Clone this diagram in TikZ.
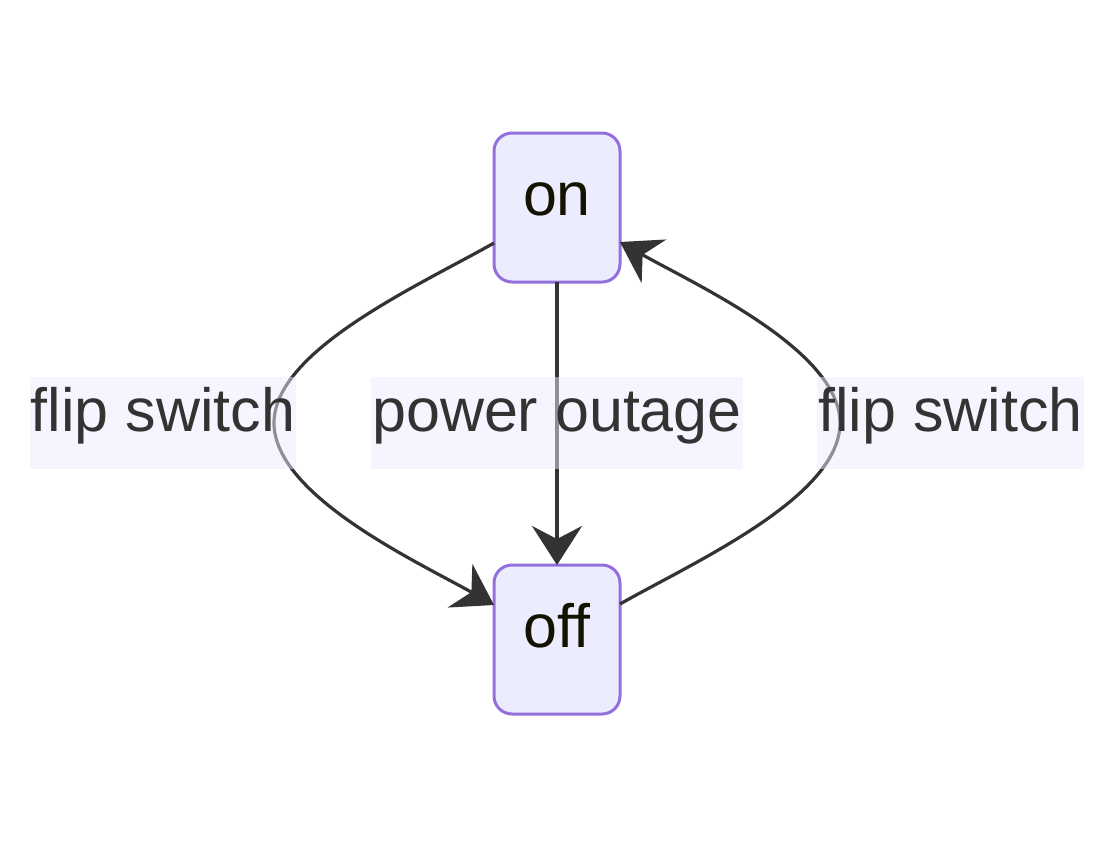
\documentclass[tikz,border=0pt]{standalone}
\usepackage{fontspec}
\setmainfont{Liberation Sans}
\usetikzlibrary{arrows.meta}
\definecolor{nodefill}{HTML}{ECECFF}
\definecolor{nodeline}{HTML}{9370DB}
\definecolor{edgecol}{HTML}{333333}
\definecolor{nodetext}{HTML}{131300}
\begin{document}
\begin{tikzpicture}[x=1pt,y=-1pt,
  state/.style={draw=nodeline, line width=3pt, fill=nodefill, rounded corners=18pt,
    inner sep=0pt, outer sep=0pt, minimum width=126pt, text height=82pt, text depth=67pt,
    font=\fontsize{61}{72}\selectfont, text=nodetext},
  elabel/.style={fill=nodefill, fill opacity=0.5, text opacity=1, inner xsep=1pt,
    inner ysep=0pt, text height=54pt, text depth=38pt,
    font=\fontsize{61}{72}\selectfont, text=edgecol},
  edge/.style={draw=edgecol, line width=3.2pt,
    -{Stealth[length=39pt,width=50pt,inset=13pt]}}]
\useasboundingbox (0,0) rectangle (1114,847);
\node[state] (on) at (557,207.5) {on};
\node[state] (off) at (557,639.5) {off};
\draw[edge] ([yshift=-35.5pt]on.west) .. controls (420,285) and (274,350) .. (274,423)
  .. controls (274,496) and (420,563) .. ([yshift=34.5pt]off.west);
\draw[edge] (on.south) -- (off.north);
\draw[edge] ([yshift=35.5pt]off.east) .. controls (694,562) and (840,497) .. (840,423)
  .. controls (840,350) and (694,284) .. ([yshift=-34.5pt]on.east);
\node[elabel] (l1) at (163,423) {flip switch};
\node[elabel] (l2) at (557,423) {power outage};
\node[elabel] (l3) at (950.5,423) {flip switch};
\end{tikzpicture}
\end{document}
